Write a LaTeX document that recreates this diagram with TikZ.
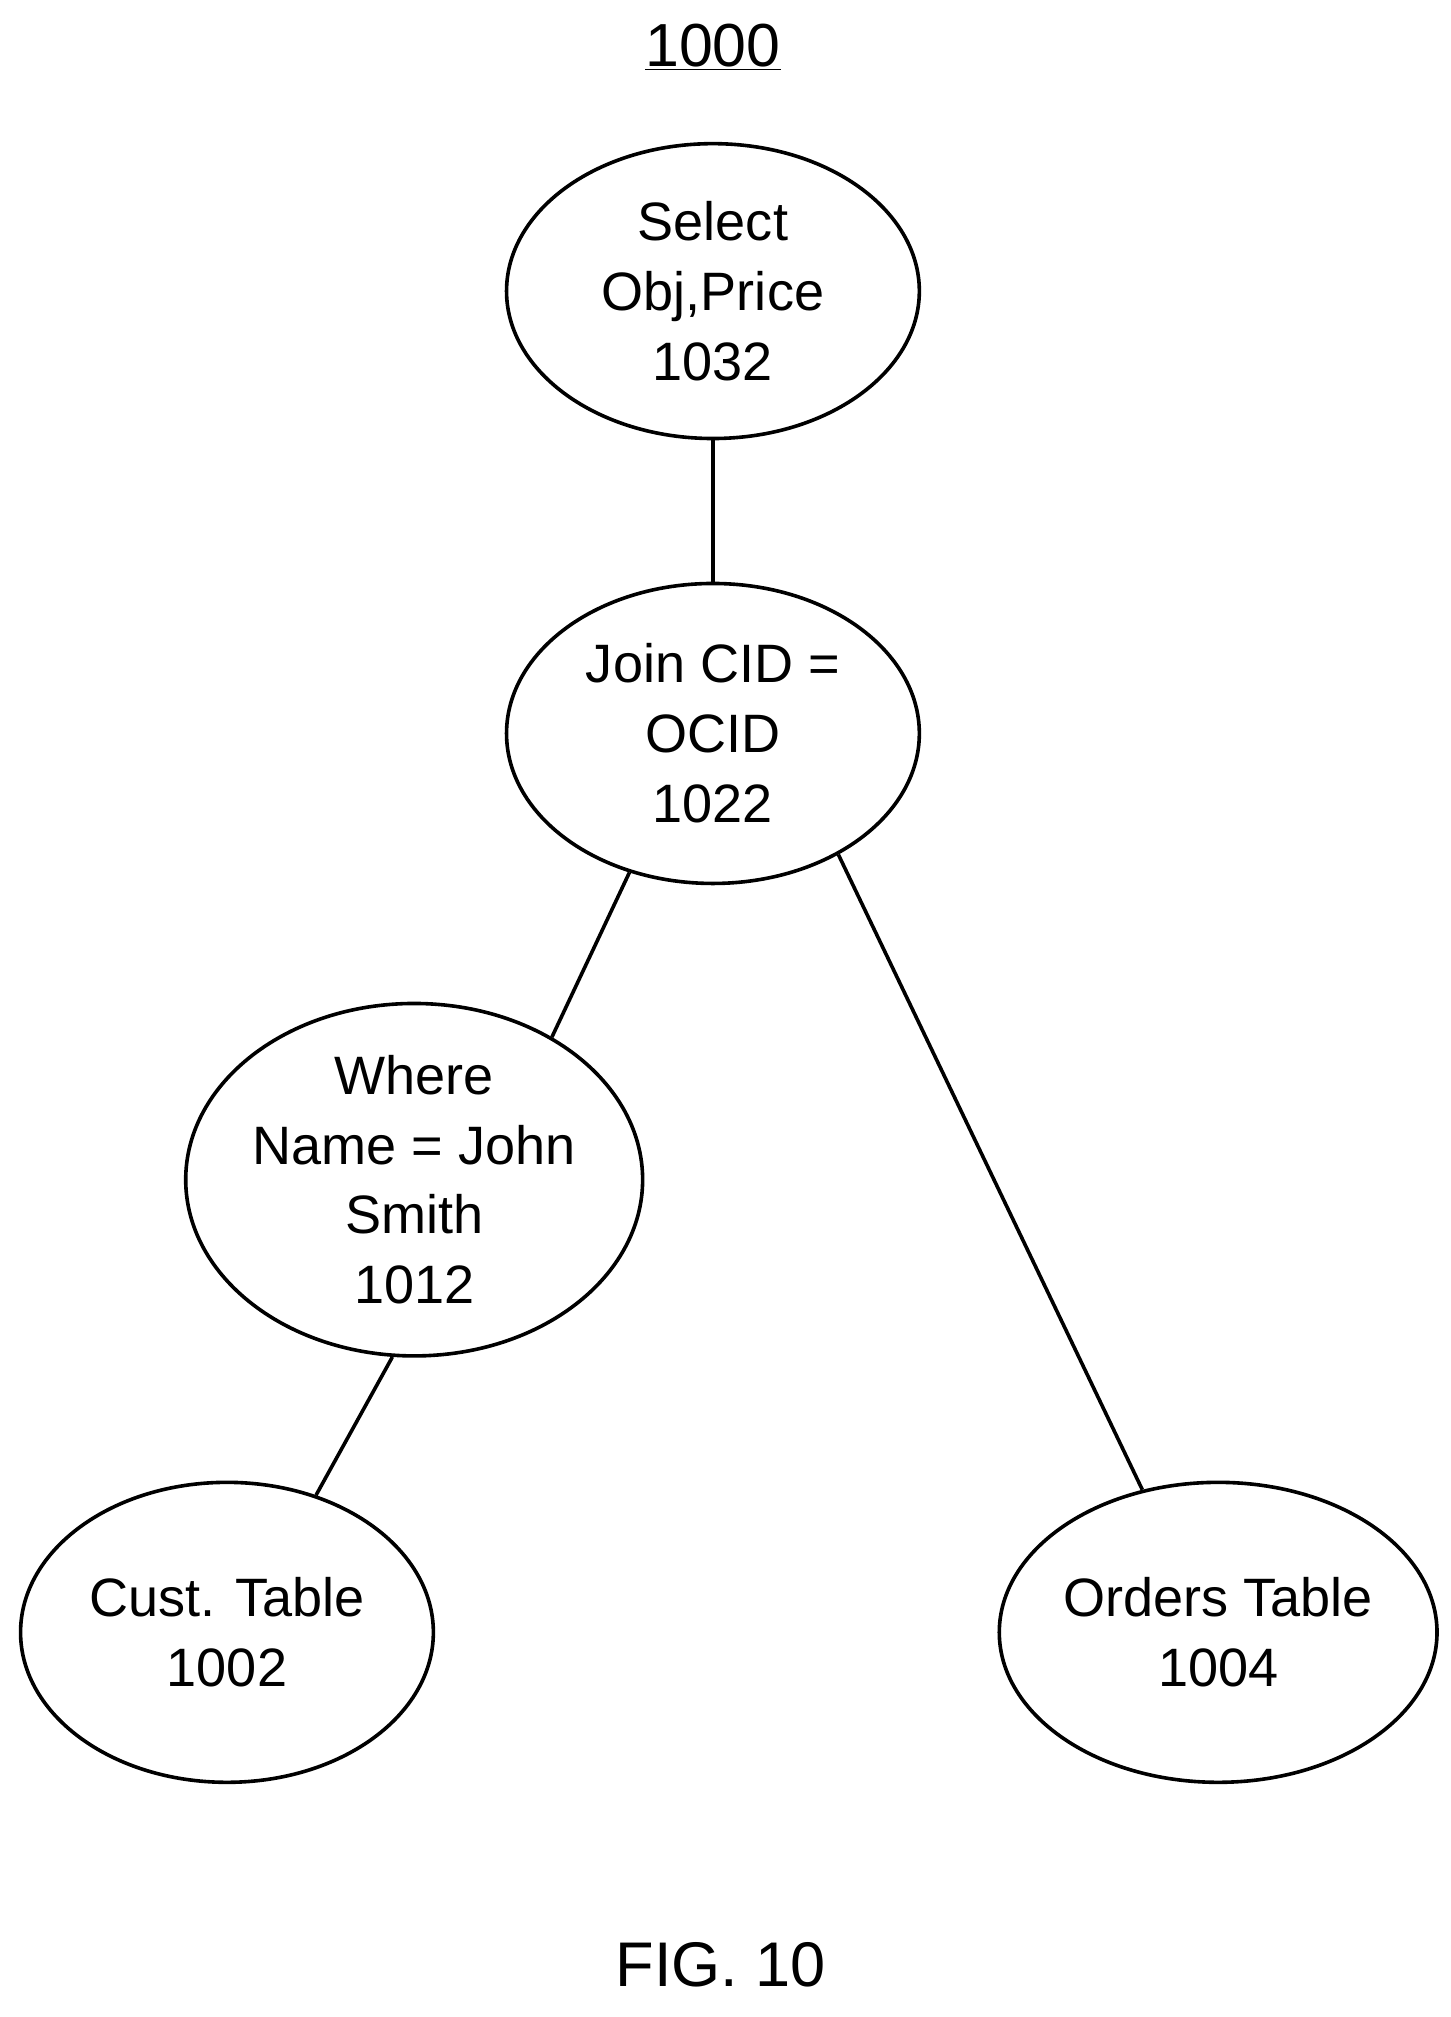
\documentclass[tikz,border=0pt]{standalone}
\usepackage{fontspec}
\setmainfont{Liberation Sans}
\usetikzlibrary{shapes.geometric}
\begin{document}
\begin{tikzpicture}[x=0.02cm,y=-0.02cm,
  el/.style={ellipse,draw,line width=1.6pt,inner sep=0pt,minimum width=6.44cm,align=center,
    font=\fontsize{24}{31}\selectfont},
  ln/.style={line width=1.6pt}]
\useasboundingbox (0,0) rectangle (1131,1573);
\node[el,minimum height=4.6cm] (n1032) at (556,227) {Select\\Obj,Price\\1032};
\node[el,minimum height=4.68cm] (n1022) at (556,572) {Join CID =\\OCID\\1022};
\node[el,minimum height=4.48cm] (n1012) at (323,920) {Where\\Name = John\\Smith\\1012};
\node[el,minimum height=4.68cm] (n1002) at (177,1273) {Cust. Table\\1002};
\node[el,minimum height=4.68cm] (n1004) at (950,1273) {Orders Table\\1004};
\draw[ln] (n1032.south) -- (n1022.north);
\draw[ln] (n1022.239) -- (n1012.46);
\draw[ln] (n1022.316) -- (n1004.118);
\draw[ln] (n1012.263) -- (n1002.57);
\node[font=\fontsize{27}{32}\selectfont] (title) at (556,37) {\underline{1000}};
\node[font=\fontsize{28}{34}\selectfont] (fig) at (562,1532) {FIG. 10};
\end{tikzpicture}
\end{document}
